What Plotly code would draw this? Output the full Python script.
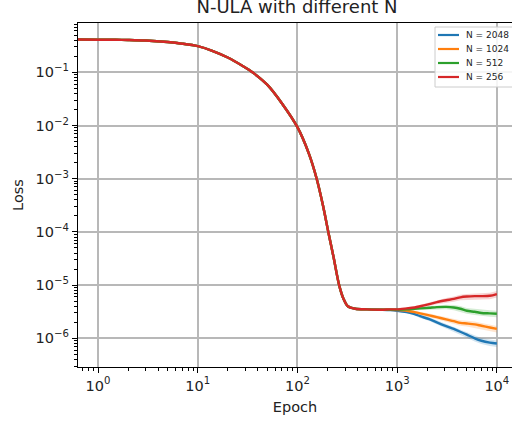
import plotly.graph_objects as go

# ---- data ----
epoch_head = [0.6, 1, 1.5, 2, 3, 5, 7, 10, 14, 20, 28, 36, 50, 70, 100, 130,
              156, 180, 204, 230, 262, 290, 320, 380, 500]
loss_head = [0.415, 0.41, 0.408, 0.404, 0.395, 0.37, 0.345, 0.31, 0.254, 0.19,
             0.133, 0.098, 0.058, 0.026, 0.0093, 0.003, 0.001, 0.00032, 0.0001,
             3.4e-5, 1.0e-5, 5.5e-6, 4.0e-6, 3.6e-6, 3.5e-6]

epoch_tail = [700, 850, 1000, 1250, 1500, 1700, 2100, 2500, 3100, 3700, 4300,
              5000, 6000, 7000, 8500, 10000]
loss_2048 = [3.45e-6, 3.4e-6, 3.3e-6, 3.1e-6, 2.85e-6, 2.6e-6, 2.3e-6, 2.0e-6,
             1.7e-6, 1.5e-6, 1.33e-6, 1.17e-6, 1.0e-6, 9.0e-7, 8.3e-7, 8.0e-7]
loss_1024 = [3.45e-6, 3.45e-6, 3.4e-6, 3.3e-6, 3.1e-6, 2.95e-6, 2.7e-6, 2.5e-6,
             2.27e-6, 2.1e-6, 1.95e-6, 1.9e-6, 1.83e-6, 1.72e-6, 1.6e-6, 1.5e-6]
loss_512 = [3.45e-6, 3.45e-6, 3.45e-6, 3.5e-6, 3.6e-6, 3.65e-6, 3.75e-6, 3.85e-6,
            3.9e-6, 3.8e-6, 3.6e-6, 3.3e-6, 3.15e-6, 3.0e-6, 2.95e-6, 2.9e-6]
loss_256 = [3.45e-6, 3.5e-6, 3.5e-6, 3.65e-6, 3.8e-6, 4.0e-6, 4.4e-6, 4.8e-6,
            5.2e-6, 5.5e-6, 5.9e-6, 6.1e-6, 6.2e-6, 6.2e-6, 6.3e-6, 6.8e-6]
# relative half-width of the faint shaded band around each tail (read estimate)
band_spread = [0.02, 0.03, 0.04, 0.05, 0.06, 0.07, 0.08, 0.09, 0.10, 0.11,
               0.12, 0.12, 0.13, 0.13, 0.14, 0.14]

series_names = ["N = 2048", "N = 1024", "N = 512", "N = 256"]
series_tails = [loss_2048, loss_1024, loss_512, loss_256]
colors = ["#1f77b4", "#ff7f0e", "#2ca02c", "#d62728"]
band_colors = ["rgba(31,119,180,0.2)", "rgba(255,127,14,0.2)",
               "rgba(44,160,44,0.2)", "rgba(214,39,40,0.2)"]

x_tickvals = [1, 10, 100, 1000, 10000]
x_ticktext = ["10<sup>0</sup>", "10<sup>1</sup>", "10<sup>2</sup>",
              "10<sup>3</sup>", "10<sup>4</sup>"]
y_tickvals = [1e-1, 1e-2, 1e-3, 1e-4, 1e-5, 1e-6]
y_ticktext = ["10<sup>−1</sup>", "10<sup>−2</sup>", "10<sup>−3</sup>",
              "10<sup>−4</sup>", "10<sup>−5</sup>", "10<sup>−6</sup>"]

# minor tick positions (axis decoration)
x_minor = [k * 10.0 ** d for d in range(-1, 5) for k in range(2, 10)]
y_minor = [k * 10.0 ** d for d in range(-7, 0) for k in range(2, 10)]

fig = go.Figure()
for tail, bc in zip(series_tails, band_colors):
    upper = [v * (1 + s) for v, s in zip(tail, band_spread)]
    lower = [v * (1 - s) for v, s in zip(tail, band_spread)]
    fig.add_trace(go.Scatter(
        x=epoch_tail + epoch_tail[::-1], y=upper + lower[::-1], fill="toself",
        fillcolor=bc, line=dict(width=0), mode="lines", showlegend=False,
        hoverinfo="skip"))
for name, tail, col in zip(series_names, series_tails, colors):
    fig.add_trace(go.Scatter(
        x=epoch_head + epoch_tail, y=loss_head + tail, name=name, mode="lines",
        showlegend=False,
        line=dict(color=col, width=2.4, shape="spline", smoothing=0.8)))

W, H = 512, 423
L, R, T, B = 78, 512, 23, 367
def px(x):
    return (x - L) / (R - L)
def py(y):
    return (B - y) / (B - T)

shapes = [dict(type="rect", xref="paper", yref="paper",
               x0=px(435), x1=px(530), y0=py(87), y1=py(27),
               line=dict(color="#cccccc", width=1),
               fillcolor="rgba(255,255,255,0.85)", layer="above")]
annotations = []
row_y = [35, 49, 63, 77]
for name, col, yy in zip(series_names, colors, row_y):
    shapes.append(dict(type="line", xref="paper", yref="paper",
                       x0=px(438), x1=px(459), y0=py(yy), y1=py(yy),
                       line=dict(color=col, width=2.2), layer="above"))
    annotations.append(dict(text=name, xref="paper", yref="paper",
                            x=px(464), y=py(yy), xanchor="left", yanchor="middle",
                            showarrow=False,
                            font=dict(size=9, family="DejaVu Sans", color="#222")))

font = "DejaVu Sans"
fig.update_layout(
    width=W, height=H,
    margin=dict(l=L, r=W - R, t=T, b=H - B, autoexpand=False),
    paper_bgcolor="white", plot_bgcolor="white",
    font=dict(family=font, size=14, color="#222"),
    title=dict(text="N-ULA with different N", x=297 / W, xanchor="center",
               y=1 - 7 / H, yanchor="middle", yref="container", xref="container",
               font=dict(size=18, family=font, color="#222")),
    showlegend=False,
    shapes=shapes, annotations=annotations,
)
fig.update_xaxes(
    type="log", range=[-0.2006, 4.152], tickvals=x_tickvals, ticktext=x_ticktext,
    automargin=False,
    showgrid=True, gridcolor="#b8b8b8", gridwidth=1.5,
    showline=True, linecolor="black", linewidth=1.2, mirror=True,
    ticks="outside", ticklen=5, tickcolor="black", tickwidth=1,
    tickfont=dict(size=14.5),
    minor=dict(tickmode="array", tickvals=x_minor, ticks="outside", ticklen=2.5,
               tickcolor="black", tickwidth=0.8, showgrid=False),
    title=dict(text="Epoch", font=dict(size=14.5, family=font), standoff=9),
    zeroline=False,
)
fig.update_yaxes(
    type="log", range=[-6.539, -0.0733], tickvals=y_tickvals, ticktext=y_ticktext,
    automargin=False,
    showgrid=True, gridcolor="#b8b8b8", gridwidth=1.5,
    showline=True, linecolor="black", linewidth=1.2, mirror=False,
    ticks="outside", ticklen=5, tickcolor="black", tickwidth=1,
    tickfont=dict(size=14.5),
    minor=dict(tickmode="array", tickvals=y_minor, ticks="outside", ticklen=2.5,
               tickcolor="black", tickwidth=0.8, showgrid=False),
    title=dict(text="Loss", font=dict(size=14.5, family=font), standoff=8),
    zeroline=False,
)
fig.write_html(
    "out.html",
    config={"displayModeBar": False},
    post_script="document.body.style.margin='0';document.body.style.overflow='hidden';",
)
